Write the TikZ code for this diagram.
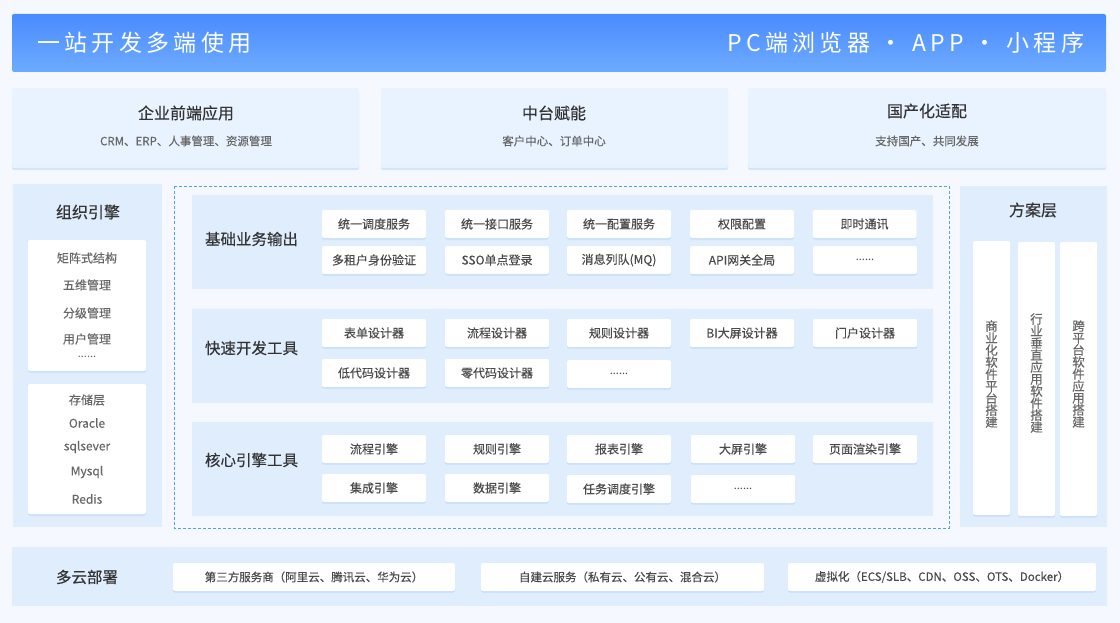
\documentclass[tikz,border=0pt]{standalone}
\usepackage{fontspec}
\setmainfont{Noto Sans CJK SC}
\newfontfamily\hdrfont[LetterSpace=19]{Noto Sans CJK SC}
\newfontfamily\medfont[FakeBold=0.35]{Noto Sans CJK SC}
\newfontfamily\semifont[FakeBold=0.2]{Noto Sans CJK SC}
\usetikzlibrary{shadows}
\definecolor{bgc}{HTML}{F5F9FF}
\definecolor{hdrtop}{HTML}{4A8BFF}
\definecolor{hdrbot}{HTML}{6DABFF}
\definecolor{topcardc}{HTML}{E9F3FF}
\definecolor{panelc}{HTML}{DFEDFD}
\definecolor{shadowc}{HTML}{BFD7FA}
\definecolor{dashc}{HTML}{4DA2F2}
\definecolor{darktxt}{HTML}{333333}
\definecolor{graytxt}{HTML}{4A4A4A}
\definecolor{lighttxt}{HTML}{666666}
\begin{document}
\begin{tikzpicture}[x=1pt,y=-1pt,
  every node/.style={inner sep=0pt, outer sep=0pt},
  panel/.style={fill=panelc, draw=none, rounded corners=1pt},
  topcard/.style={fill=topcardc, rounded corners=2pt, minimum height=80pt,
    drop shadow={shadow xshift=0pt, shadow yshift=-2pt, fill=shadowc, opacity=.6}},
  card/.style={fill=white, rounded corners=2pt,
    drop shadow={shadow xshift=0pt, shadow yshift=-1.5pt, fill=shadowc, opacity=.7}},
  cell/.style={card, minimum width=104pt, minimum height=28pt, text=graytxt,
    font=\medfont\fontsize{12}{14}\selectfont},
  bcell/.style={card, minimum height=28pt, text=graytxt, font=\medfont\fontsize{11.5}{14}\selectfont},
  ttl/.style={text=darktxt, font=\medfont\fontsize{16}{18}\selectfont},
  sub/.style={text=lighttxt, font=\semifont\fontsize{11.5}{14}\selectfont},
  rowlbl/.style={anchor=west, text=darktxt, font=\semifont\fontsize{15.5}{18}\selectfont},
  item/.style={text=lighttxt, font=\medfont\fontsize{12}{14}\selectfont},
  dots/.style={text=lighttxt, font=\fontsize{11}{12}\selectfont},
  vcol/.style={card, minimum width=37pt, minimum height=274pt},
  vtxt/.style={text=lighttxt, font=\semifont\fontsize{12.5}{14}\selectfont, align=center}
]
\useasboundingbox (0,0) rectangle (1120,623);
\fill[bgc] (0,0) rectangle (1120,623);

% header
\node[rounded corners=2pt, top color=hdrtop, bottom color=hdrbot, draw=none,
  minimum width=1094pt, minimum height=58pt] (hdr) at (559,43) {};
\node[anchor=west, text=white, font=\hdrfont\fontsize{23}{26}\selectfont] (hdrl) at (37,43) {一站开发多端使用};
\node[anchor=east, text=white, font=\hdrfont\fontsize{23}{26}\selectfont] (hdrr) at (1084,43) {PC端浏览器 · APP · 小程序};

% top cards
\node[topcard, minimum width=347pt] (t1) at (185.5,128) {};
\node[topcard, minimum width=347pt] (t2) at (554.5,128) {};
\node[topcard, minimum width=358pt] (t3) at (927,128) {};
\node[ttl] (t1a) at (186,113) {企业前端应用};
\node[sub] (t1b) at (186,141) {CRM、ERP、人事管理、资源管理};
\node[ttl] (t2a) at (554,113) {中台赋能};
\node[sub] (t2b) at (554,141) {客户中心、订单中心};
\node[ttl] (t3a) at (927,111) {国产化适配};
\node[sub] (t3b) at (927,141) {支持国产、共同发展};

% left panel
\fill[panelc] (13,184) rectangle (162,527);
\node[ttl] (lt) at (88,212) {组织引擎};
\node[card, minimum width=118pt, minimum height=131pt] (lb1) at (87,305.5) {};
\node[item] (l1) at (87,258) {矩阵式结构};
\node[item] (l2) at (87,285) {五维管理};
\node[item] (l3) at (87,313) {分级管理};
\node[item] (l4) at (87,339) {用户管理};
\node[dots] (l5) at (87,357) {......};
\node[card, minimum width=118pt, minimum height=130pt] (lb2) at (87,449) {};
\node[item] (s1) at (87,400) {存储层};
\node[item] (s2) at (87,423) {Oracle};
\node[item] (s3) at (87,447) {sqlsever};
\node[item] (s4) at (87,472) {Mysql};
\node[item] (s5) at (87,499) {Redis};

% dashed frame
\draw[dashc, dashed, dash pattern=on 3pt off 2pt, line width=0.8pt] (174.5,186.5) rectangle (949,528);

% row panels
\fill[panelc] (192,195) rectangle (933,289);
\fill[panelc] (192,309) rectangle (933,403);
\fill[panelc] (192,422) rectangle (933,516);
\node[rowlbl] (r1) at (205,239) {基础业务输出};
\node[rowlbl] (r2) at (205,348) {快速开发工具};
\node[rowlbl] (r3) at (205,460) {核心引擎工具};

% row 1 cells
\node[cell] (a1) at (374,224) {统一调度服务};
\node[cell] (a2) at (497,224) {统一接口服务};
\node[cell] (a3) at (619,224) {统一配置服务};
\node[cell] (a4) at (742,224) {权限配置};
\node[cell] (a5) at (864.5,224) {即时通讯};
\node[cell] (b1) at (374,260) {多租户身份验证};
\node[cell] (b2) at (497,260) {SSO单点登录};
\node[cell] (b3) at (619,260) {消息列队(MQ)};
\node[cell] (b4) at (742,260) {API网关全局};
\node[cell, font=\fontsize{11}{12}\selectfont] (b5) at (865,260) {......};

% row 2 cells
\node[cell] (c1) at (374,333) {表单设计器};
\node[cell] (c2) at (497,333) {流程设计器};
\node[cell] (c3) at (619,333) {规则设计器};
\node[cell] (c4) at (742,333) {BI大屏设计器};
\node[cell] (c5) at (865,333) {门户设计器};
\node[cell] (d1) at (374,373) {低代码设计器};
\node[cell] (d2) at (497,373) {零代码设计器};
\node[cell, font=\fontsize{11}{12}\selectfont] (d3) at (619,374) {......};

% row 3 cells
\node[cell] (e1) at (374,449) {流程引擎};
\node[cell] (e2) at (497,449) {规则引擎};
\node[cell] (e3) at (619,449) {报表引擎};
\node[cell] (e4) at (743,449) {大屏引擎};
\node[cell] (e5) at (865,449) {页面渲染引擎};
\node[cell] (f1) at (374,488) {集成引擎};
\node[cell] (f2) at (497,488) {数据引擎};
\node[cell] (f3) at (619,489) {任务调度引擎};
\node[cell, font=\fontsize{11}{12}\selectfont] (f4) at (743,489) {......};

% right panel
\fill[panelc] (960,186) rectangle (1107,527);
\node[ttl] (rt) at (1033,210) {方案层};
\node[vcol] (v1) at (991.5,378) {};
\node[vcol] (v2) at (1036.5,379) {};
\node[vcol] (v3) at (1078.5,379) {};
\node[vtxt] (v1t) at (991.5,374) {商\\[-2pt]业\\[-2pt]化\\[-2pt]软\\[-2pt]件\\[-2pt]平\\[-2pt]台\\[-2pt]搭\\[-2pt]建};
\node[vtxt] (v2t) at (1036.5,373) {行\\[-2pt]业\\[-2pt]垂\\[-2pt]直\\[-2pt]应\\[-2pt]用\\[-2pt]软\\[-2pt]件\\[-2pt]搭\\[-2pt]建};
\node[vtxt] (v3t) at (1078.5,374) {跨\\[-2pt]平\\[-2pt]台\\[-2pt]软\\[-2pt]件\\[-2pt]应\\[-2pt]用\\[-2pt]搭\\[-2pt]建};

% bottom
\fill[panelc] (12,547) rectangle (1107,606);
\node[text=darktxt, font=\semifont\fontsize{15.5}{18}\selectfont] (bl) at (87,577) {多云部署};
\node[bcell, minimum width=282pt] (g1) at (314,577) {第三方服务商（阿里云、腾讯云、华为云）};
\node[bcell, minimum width=283pt] (g2) at (622.5,577) {自建云服务（私有云、公有云、混合云）};
\node[bcell, minimum width=308pt] (g3) at (942,577) {虚拟化（ECS/SLB、CDN、OSS、OTS、Docker）};
\end{tikzpicture}
\end{document}
